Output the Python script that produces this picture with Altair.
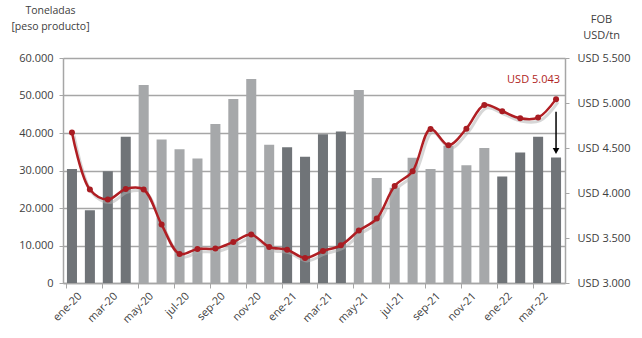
import altair as alt
import pandas as pd

months = ["ene-20", "feb-20", "mar-20", "abr-20", "may-20", "jun-20", "jul-20", "ago-20",
          "sep-20", "oct-20", "nov-20", "dic-20", "ene-21", "feb-21", "mar-21", "abr-21",
          "may-21", "jun-21", "jul-21", "ago-21", "sep-21", "oct-21", "nov-21", "dic-21",
          "ene-22", "feb-22", "mar-22", "abr-22"]
toneladas = [30400, 19400, 29800, 39000, 52800, 38300, 35700, 33200,
             42400, 49100, 54400, 36900, 36200, 33700, 39700, 40400,
             51500, 28000, 25400, 33400, 30400, 36600, 31400, 36000,
             28400, 34800, 39000, 33500]
periodo = ["A", "A", "A", "A", "B", "B", "B", "B", "B", "B", "B", "B",
           "A", "A", "A", "A", "B", "B", "B", "B", "B", "B", "B", "B",
           "A", "A", "A", "A"]
fob = [4672, 4038, 3927, 4044, 4038, 3649, 3322, 3378, 3382, 3456, 3538, 3400,
       3370, 3278, 3356, 3419, 3582, 3716, 4078, 4243, 4711, 4530, 4715, 4978,
       4908, 4830, 4838, 5043]
label_months = months[::2]
left_ticks = [0, 10000, 20000, 30000, 40000, 50000, 60000]
right_ticks = [3000, 3500, 4000, 4500, 5000, 5500]

ann_month = ["abr-22"]
ann_text = ["USD 5.043"]
ann_text_y = [5252]
arrow_top = [45700]
arrow_bottom = [35200]

df = pd.DataFrame({"mes": months, "ton": toneladas, "per": periodo, "fob": fob})
ann = pd.DataFrame({"mes": ann_month, "txt": ann_text, "ty": ann_text_y,
                    "a1": arrow_top, "a2": arrow_bottom})

FONT = "Open Sans"
TXT = "#404040"
GRID = "#A6A6A6"

xscale = alt.Scale(domain=months, paddingInner=0.44, paddingOuter=0.22)
xaxis = alt.Axis(values=label_months, labelAngle=-45, labelAlign="right", labelBaseline="top",
                 bandPosition=0, labelOffset=4, tickSize=5, tickColor=GRID, domainColor=GRID,
                 labelFont=FONT, labelFontSize=11, labelColor=TXT, labelPadding=2,
                 labelOverlap=False, title=None, grid=False, domainWidth=1.5)

y_left = alt.Scale(domain=[0, 60000], nice=False)
y_right = alt.Scale(domain=[3000, 5500], nice=False)

yl_axis = alt.Axis(values=left_ticks, labelOverlap=False,
                   labelExpr="replace(format(datum.value, ','), ',', '.')",
                   grid=True, gridColor=GRID, gridWidth=1.5,
                   domainColor=GRID, domainWidth=1.5, tickColor=GRID, tickSize=4,
                   labelFont=FONT, labelFontSize=11, labelColor=TXT, labelPadding=6,
                   title=["Toneladas", "[peso producto]"], titleAngle=0,
                   titleAlign="center", titleBaseline="top", titleX=-13, titleY=-53,
                   titleFont=FONT, titleFontSize=10.5, titleFontWeight="normal",
                   titleColor=TXT, titleLineHeight=16)

yr_axis = alt.Axis(values=right_ticks, orient="right", labelOverlap=False,
                   labelExpr="'USD ' + replace(format(datum.value, ','), ',', '.')",
                   grid=False, domainColor=GRID, domainWidth=1.5, tickColor=GRID, tickSize=4,
                   labelFont=FONT, labelFontSize=11, labelColor=TXT, labelPadding=8,
                   title=["FOB", "USD/tn"], titleAngle=0, titleAlign="center",
                   titleBaseline="top", titleX=36, titleY=-45, titleFont=FONT,
                   titleFontSize=11, titleFontWeight="normal", titleColor=TXT,
                   titleLineHeight=16)


def X():
    return alt.X("mes:N", scale=xscale, axis=xaxis, sort=months)


bars = alt.Chart(df).mark_bar().encode(
    x=X(),
    y=alt.Y("ton:Q", scale=y_left, axis=yl_axis),
    color=alt.Color("per:N", scale=alt.Scale(domain=["A", "B"], range=["#707478", "#A6A8AA"]),
                    legend=None),
)

arrow = alt.Chart(ann).mark_rule(color="black", strokeWidth=1.5).encode(
    x=X(),
    y=alt.Y("a1:Q", scale=y_left, axis=yl_axis),
    y2="a2:Q",
)
arrowhead = alt.Chart(ann).mark_point(shape="triangle-down", filled=True, color="black",
                                      size=45, opacity=1).encode(
    x=X(),
    y=alt.Y("a2:Q", scale=y_left, axis=yl_axis),
)

left = alt.layer(bars, arrow, arrowhead)

shadow = alt.Chart(df).mark_line(interpolate="catmull-rom", color="#B0B0B0", strokeWidth=3,
                                 opacity=0.5, xOffset=2, yOffset=3).encode(
    x=X(),
    y=alt.Y("fob:Q", scale=y_right, axis=yr_axis),
)
line = alt.Chart(df).mark_line(interpolate="catmull-rom", color="#B01E23",
                               strokeWidth=2.5).encode(
    x=X(),
    y=alt.Y("fob:Q", scale=y_right, axis=yr_axis),
)
pts = alt.Chart(df).mark_circle(color="#A81C22", size=36, opacity=1).encode(
    x=X(),
    y=alt.Y("fob:Q", scale=y_right, axis=yr_axis),
)
label = alt.Chart(ann).mark_text(color="#B01E23", font=FONT, fontSize=11, align="right",
                                 baseline="middle", dx=4).encode(
    x=X(),
    y=alt.Y("ty:Q", scale=y_right, axis=yr_axis),
    text="txt:N",
)
right = alt.layer(shadow, line, pts, label)

chart = alt.layer(left, right).resolve_scale(y="independent").properties(
    width=502, height=225,
    autosize=alt.AutoSizeParams(type="none"),
    padding={"left": 63, "top": 58, "right": 77, "bottom": 55},
).configure_view(stroke=None).configure(background="white")

chart.save("out.html", embed_options={"renderer": "svg", "actions": False})
